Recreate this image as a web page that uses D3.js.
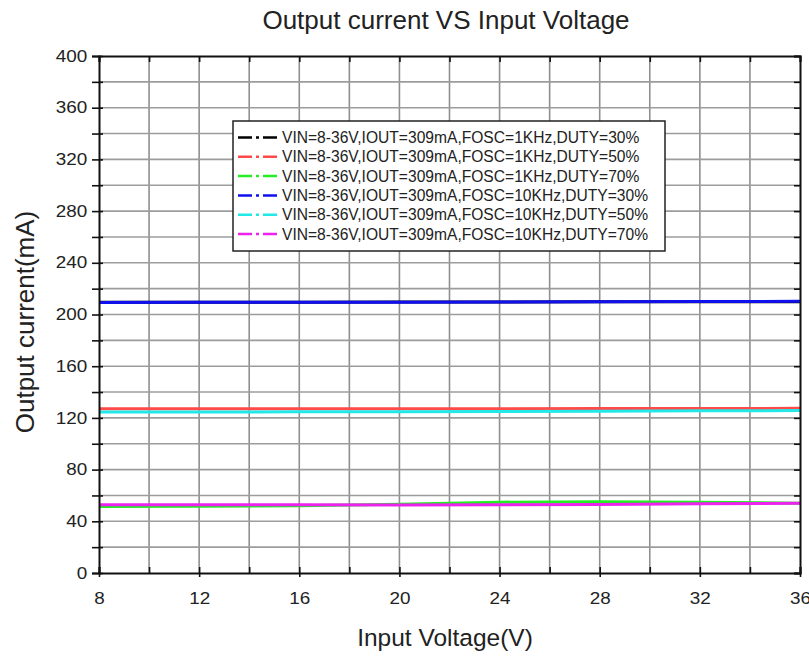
<!DOCTYPE html>
<html>
<head>
<meta charset="utf-8">
<script src="https://cdn.jsdelivr.net/npm/d3@7"></script>
<style>
  html, body { margin: 0; padding: 0; background: #fff; }
  svg { display: block; }
  text { font-family: Arial, "Liberation Sans", sans-serif; fill: #222; }
</style>
</head>
<body>
<svg id="chart" width="809" height="659"></svg>
<script>
// ---- data ----
const voltages = [8, 12, 16, 20, 24, 28, 32, 36];
const seriesNames = [
  "VIN=8-36V,IOUT=309mA,FOSC=1KHz,DUTY=30%",
  "VIN=8-36V,IOUT=309mA,FOSC=1KHz,DUTY=50%",
  "VIN=8-36V,IOUT=309mA,FOSC=1KHz,DUTY=70%",
  "VIN=8-36V,IOUT=309mA,FOSC=10KHz,DUTY=30%",
  "VIN=8-36V,IOUT=309mA,FOSC=10KHz,DUTY=50%",
  "VIN=8-36V,IOUT=309mA,FOSC=10KHz,DUTY=70%"
];
const f1k_d30  = [209.5, 209.5, 209.5, 209.6, 209.7, 209.8, 209.8, 209.8];
const f1k_d50  = [127.0, 127.0, 127.0, 127.0, 127.1, 127.2, 127.3, 127.4];
const f1k_d70  = [51.4, 51.6, 52.0, 53.2, 54.8, 55.2, 54.8, 54.0];
const f10k_d30 = [209.3, 209.4, 209.4, 209.5, 209.6, 209.8, 210.0, 210.2];
const f10k_d50 = [124.6, 124.6, 124.7, 124.8, 125.0, 125.2, 125.5, 125.7];
const f10k_d70 = [52.9, 52.8, 52.8, 52.7, 52.8, 53.0, 53.5, 53.9];
const seriesColors = ["#000000", "#ff4a4a", "#22ee22", "#1010ee", "#22e8e8", "#ee22ee"];
const xTicks = [8, 12, 16, 20, 24, 28, 32, 36];
const yTicks = [0, 40, 80, 120, 160, 200, 240, 280, 320, 360, 400];
const title = "Output current VS Input Voltage";
const xLabel = "Input Voltage(V)";
const yLabel = "Output current(mA)";

const allSeries = [f1k_d30, f1k_d50, f1k_d70, f10k_d30, f10k_d50, f10k_d70];

// ---- layout ----
const L = 99, R = 800, T = 56, B = 573;
const svg = d3.select("#chart");
const x = d3.scaleLinear().domain([8, 36]).range([L, R]);
const y = d3.scaleLinear().domain([0, 400]).range([B, T]);

const minorX = d3.range(8, 36.01, 2);
const minorY = d3.range(0, 400.01, 20);

// grid
const grid = svg.append("g");
grid.selectAll(".gx").data(minorX.slice(1, -1)).join("line")
  .attr("x1", d => x(d)).attr("x2", d => x(d)).attr("y1", T).attr("y2", B)
  .attr("stroke", "#8f8f8f").attr("stroke-width", 1.6);
grid.selectAll(".gy").data(minorY.slice(1, -1)).join("line")
  .attr("y1", d => y(d)).attr("y2", d => y(d)).attr("x1", L).attr("x2", R)
  .attr("stroke", "#9c9c9c").attr("stroke-width", 1.6);

// series lines
const line = d3.line().x((d, i) => x(voltages[i])).y(d => y(d));
const order = [0, 3, 1, 4, 2, 5];
order.forEach(k => {
  svg.append("path").datum(allSeries[k])
    .attr("d", line).attr("fill", "none")
    .attr("stroke", seriesColors[k]).attr("stroke-width", 3);
});

// axes
function styleAxis(g) {
  g.selectAll("path.domain").attr("stroke", "#111").attr("stroke-width", 2);
  g.selectAll(".tick line").attr("stroke", "#111").attr("stroke-width", 1.6);
  g.selectAll(".tick text").attr("font-size", 16)
    .attr("font-family", "Arial, 'Liberation Sans', sans-serif").attr("fill", "#222");
}
// left
const gl = svg.append("g").attr("transform", `translate(${L},0)`)
  .call(d3.axisLeft(y).tickValues(minorY).tickSize(7).tickPadding(3)
    .tickFormat(d => yTicks.includes(d) ? d : ""));
styleAxis(gl);
gl.selectAll(".tick text").attr("transform", "scale(1.18,1)");
svg.append("g").attr("transform", `translate(${L},0)`)
  .call(d3.axisLeft(y).tickValues(minorY).tickSize(-4).tickFormat(""))
  .call(g => g.select(".domain").remove()).call(styleAxis);
// right
svg.append("g").attr("transform", `translate(${R},0)`)
  .call(d3.axisRight(y).tickValues(minorY).tickSize(-6).tickFormat(""))
  .call(styleAxis);
// bottom
const gb = svg.append("g").attr("transform", `translate(0,${B})`)
  .call(d3.axisBottom(x).tickValues(minorX).tickSize(-6).tickPadding(20)
    .tickFormat(d => xTicks.includes(d) ? d : ""));
styleAxis(gb);
gb.selectAll(".tick text").attr("transform", "scale(1.18,1)");
svg.append("g").attr("transform", `translate(0,${B})`)
  .call(d3.axisBottom(x).tickValues(xTicks).tickSize(4).tickFormat(""))
  .call(g => g.select(".domain").remove()).call(styleAxis);
// top
svg.append("g").attr("transform", `translate(0,${T})`)
  .call(d3.axisTop(x).tickValues(minorX).tickSize(-6).tickFormat(""))
  .call(styleAxis);

// titles
svg.append("text").attr("x", 446).attr("y", 29).attr("text-anchor", "middle")
  .attr("font-size", 26).text(title);
svg.append("text").attr("x", 445).attr("y", 646).attr("text-anchor", "middle")
  .attr("font-size", 24.5).text(xLabel);
svg.append("text").attr("transform", "translate(34,322) rotate(-90)")
  .attr("text-anchor", "middle").attr("font-size", 26).text(yLabel);

// legend
const lg = svg.append("g");
lg.append("rect").attr("x", 233).attr("y", 121).attr("width", 432).attr("height", 130)
  .attr("fill", "#fff").attr("stroke", "#222").attr("stroke-width", 1.5);
seriesNames.forEach((name, i) => {
  const cy = 137.5 + i * 19.3;
  lg.append("line").attr("x1", 238).attr("x2", 279).attr("y1", cy).attr("y2", cy)
    .attr("stroke", seriesColors[i]).attr("stroke-width", 2.5)
    .attr("stroke-dasharray", "14,4,3,4");
  lg.append("text").attr("x", 282).attr("y", cy + 5.5)
    .attr("font-size", 15.6).text(name);
});
</script>
</body>
</html>
